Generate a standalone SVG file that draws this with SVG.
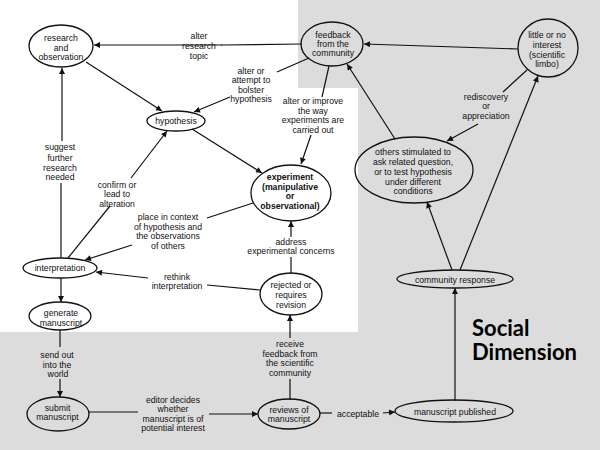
<svg xmlns="http://www.w3.org/2000/svg" width="600" height="450" viewBox="0 0 600 450">
<defs>
<marker id="a" viewBox="0 0 10 10" refX="10" refY="5" markerWidth="7" markerHeight="6" orient="auto" markerUnits="userSpaceOnUse"><path d="M0,0 L10,5 L0,10 z" fill="#111"/></marker>
<style>
.n ellipse{fill:none;stroke:#111;stroke-width:1.3}
text{font-family:"Liberation Sans",Arial,sans-serif;font-size:8.7px;fill:#111;text-anchor:middle}
.b{font-weight:bold}
.c line{stroke:#111;stroke-width:1.2;fill:none}
.c line.ar{marker-end:url(#a)}
.sd{font-family:Lato,"Open Sans",sans-serif;font-weight:bold;font-size:22px;text-anchor:start;fill:#000}
</style>
</defs>
<rect width="600" height="450" fill="#dcdcdc"/>
<polygon points="0,0 298,0 298,88 358,88 358,332 0,332" fill="#fff"/>

<g id="connectors" class="c">
<line class="ar" x1="222" y1="45" x2="94" y2="45"/>
<line x1="302" y1="44" x2="221" y2="45"/>
<line class="ar" x1="86" y1="62" x2="162" y2="111"/>
<line x1="309" y1="58" x2="277" y2="72"/>
<line class="ar" x1="230" y1="97" x2="194" y2="112"/>
<line x1="329" y1="66" x2="322" y2="97"/>
<line class="ar" x1="311" y1="135" x2="301" y2="164"/>
<line class="ar" x1="192" y1="129" x2="262" y2="173"/>
<line x1="68" y1="258" x2="110" y2="206"/>
<line class="ar" x1="131" y1="178" x2="167" y2="131"/>
<line x1="253" y1="203" x2="207" y2="218"/>
<line class="ar" x1="132" y1="245" x2="85" y2="260"/>
<line x1="291" y1="273" x2="291" y2="257"/>
<line class="ar" x1="291" y1="237" x2="291" y2="221"/>
<line x1="260" y1="290" x2="207" y2="285"/>
<line class="ar" x1="148" y1="278" x2="96" y2="272"/>
<line x1="61" y1="258" x2="61" y2="183"/>
<line class="ar" x1="62" y1="141" x2="62" y2="68"/>
<line class="ar" x1="61" y1="278" x2="61" y2="302"/>
<line x1="60" y1="330" x2="60" y2="347"/>
<line class="ar" x1="60" y1="379" x2="60" y2="397"/>
<line x1="88" y1="412" x2="138" y2="412"/>
<line class="ar" x1="209" y1="414" x2="258" y2="414"/>
<line x1="290" y1="400" x2="290" y2="379"/>
<line class="ar" x1="290" y1="338" x2="290" y2="315"/>
<line x1="320" y1="413" x2="332" y2="413"/>
<line class="ar" x1="383" y1="413" x2="395" y2="412"/>
<line class="ar" x1="455" y1="401" x2="455" y2="288"/>
<line class="ar" x1="452" y1="270" x2="427" y2="202"/>
<line class="ar" x1="460" y1="270" x2="538" y2="76"/>
<line class="ar" x1="395" y1="139" x2="347" y2="64"/>
<line class="ar" x1="518" y1="49" x2="364" y2="44"/>
<line x1="527" y1="70" x2="503" y2="92"/>
<line class="ar" x1="478" y1="124" x2="447" y2="141"/>

<text><tspan x="199" y="39">alter</tspan><tspan x="199" y="49">research</tspan><tspan x="199" y="58.5">topic</tspan></text>
<text><tspan x="251" y="73.5">alter or</tspan><tspan x="251" y="83">attempt to</tspan><tspan x="251" y="92.5">bolster</tspan><tspan x="251" y="102">hypothesis</tspan></text>
<text><tspan x="313" y="104">alter or improve</tspan><tspan x="313" y="114">the way</tspan><tspan x="313" y="123">experiments are</tspan><tspan x="313" y="132.5">carried out</tspan></text>
<text><tspan x="60" y="150">suggest</tspan><tspan x="60" y="160.5">further</tspan><tspan x="60" y="170.5">research</tspan><tspan x="60" y="180">needed</tspan></text>
<text><tspan x="117" y="187.5">confirm or</tspan><tspan x="117" y="197">lead to</tspan><tspan x="117" y="206.5">alteration</tspan></text>
<text><tspan x="168" y="220">place in context</tspan><tspan x="168" y="229.5">of hypothesis and</tspan><tspan x="168" y="239">the observations</tspan><tspan x="168" y="249">of others</tspan></text>
<text><tspan x="177" y="280">rethink</tspan><tspan x="177" y="289">interpretation</tspan></text>
<text><tspan x="291" y="245">address</tspan><tspan x="291" y="254">experimental concerns</tspan></text>
<text><tspan x="486" y="100">rediscovery</tspan><tspan x="486" y="109">or</tspan><tspan x="486" y="118.5">appreciation</tspan></text>
<text><tspan x="57" y="357.5">send out</tspan><tspan x="57" y="367.5">into the</tspan><tspan x="58" y="377">world</tspan></text>
<text><tspan x="173" y="402.5">editor decides</tspan><tspan x="173" y="412">whether</tspan><tspan x="173" y="421.5">manuscript is of</tspan><tspan x="173" y="431">potential interest</tspan></text>
<text><tspan x="290" y="346.5">receive</tspan><tspan x="290" y="356.5">feedback from</tspan><tspan x="290" y="366">the scientific</tspan><tspan x="290" y="376">community</tspan></text>
<text x="358" y="417">acceptable</text>
</g>

<g id="research" class="n"><ellipse cx="61" cy="46" rx="32" ry="21"/><text><tspan x="61" y="41">research</tspan><tspan x="61" y="50.5">and</tspan><tspan x="61" y="60">observation</tspan></text></g>
<g id="hypothesis" class="n"><ellipse cx="176" cy="121" rx="29" ry="10"/><text x="176" y="123.5">hypothesis</text></g>
<g id="feedback" class="n"><ellipse cx="332" cy="44" rx="31" ry="22"/><text><tspan x="333" y="37.5">feedback</tspan><tspan x="333" y="47">from the</tspan><tspan x="333" y="56">community</tspan></text></g>
<g id="limbo" class="n"><ellipse cx="548" cy="48" rx="30" ry="29"/><text><tspan x="547" y="37.5">little or no</tspan><tspan x="547" y="47.5">interest</tspan><tspan x="547" y="57.5">(scientific</tspan><tspan x="547" y="66.5">limbo)</tspan></text></g>
<g id="others" class="n"><ellipse cx="414" cy="170" rx="59" ry="33"/><text><tspan x="413" y="155">others stimulated to</tspan><tspan x="413" y="165">ask related question,</tspan><tspan x="413" y="175">or to test hypothesis</tspan><tspan x="413" y="185">under different</tspan><tspan x="413" y="194">conditions</tspan></text></g>
<g id="community" class="n"><ellipse cx="455" cy="279" rx="58" ry="9"/><text x="455" y="282.5">community response</text></g>
<g id="experiment" class="n"><ellipse cx="291" cy="193" rx="40" ry="28"/><text class="b"><tspan x="290" y="180">experiment</tspan><tspan x="290" y="189.5">(manipulative</tspan><tspan x="290" y="199">or</tspan><tspan x="290" y="208.5">observational)</tspan></text></g>
<g id="rejected" class="n"><ellipse cx="291" cy="294" rx="31" ry="21"/><text><tspan x="291" y="288">rejected or</tspan><tspan x="291" y="298">requires</tspan><tspan x="291" y="307.5">revision</tspan></text></g>
<g id="interpretation" class="n"><ellipse cx="60" cy="268" rx="37" ry="10"/><text x="60" y="271">interpretation</text></g>
<g id="generate" class="n"><ellipse cx="60" cy="316" rx="31" ry="14"/><text><tspan x="61" y="316">generate</tspan><tspan x="61" y="325.5">manuscript</tspan></text></g>
<g id="submit" class="n"><ellipse cx="58" cy="414" rx="31" ry="17"/><text><tspan x="57.5" y="410.5">submit</tspan><tspan x="57.5" y="420">manuscript</tspan></text></g>
<g id="reviews" class="n"><ellipse cx="289" cy="414" rx="31" ry="15"/><text><tspan x="289" y="412.5">reviews of</tspan><tspan x="289" y="421.5">manuscript</tspan></text></g>
<g id="published" class="n"><ellipse cx="454" cy="411" rx="59" ry="11"/><text x="455" y="414.5">manuscript published</text></g>

<text class="sd"><tspan x="472" y="335.5">Social</tspan><tspan x="472" y="360">Dimension</tspan></text>
</svg>
